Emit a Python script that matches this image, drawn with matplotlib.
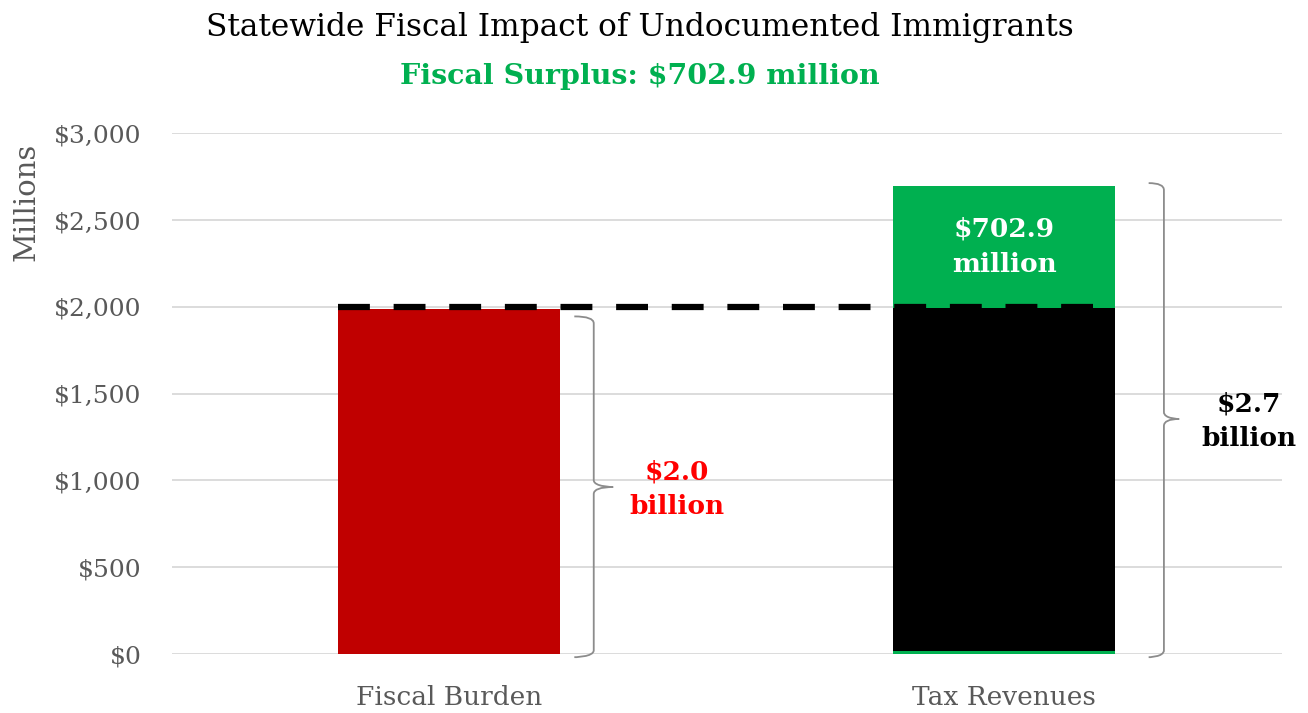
import numpy as np
import matplotlib
matplotlib.use("Agg")
import matplotlib.pyplot as plt
from matplotlib.path import Path
from matplotlib.patches import PathPatch

# values in millions of dollars
categories = ["Fiscal Burden", "Tax Revenues"]
burden = 1990.0
revenue_base = 15.0        # thin green sliver under the black segment
revenue_matched = 1980.0   # part of revenues that offsets the burden
surplus = 702.9
burden_label = "$2.0\nbillion"
revenue_label = "$2.7\nbillion"
surplus_label = "$702.9\nmillion"
yticks = [0, 500, 1000, 1500, 2000, 2500, 3000]

RED = "#C00000"
GREEN = "#00B050"
GRAY_TXT = "#595959"
GRID = "#D9D9D9"
BRACE = "#8C8C8C"

plt.rcParams["font.family"] = ["DejaVu Serif"]

fig = plt.figure(figsize=(13.08, 7.13), dpi=100)
ax = fig.add_axes([0.1315, 0.0827, 0.8485, 0.7304])

x = np.arange(len(categories))
w = 0.40

ax.bar(x[0], burden, width=w, color=RED, zorder=3)
ax.bar(x[1], revenue_base, width=w, color=GREEN, zorder=3)
ax.bar(x[1], revenue_matched, width=w, bottom=revenue_base, color="black", zorder=3)
top_black = revenue_base + revenue_matched
ax.bar(x[1], surplus, width=w, bottom=top_black, color=GREEN, zorder=3)
total = top_black + surplus

# dashed reference line at the burden level
ax.plot([x[0] - w / 2, x[1] + w / 2], [2000, 2000], color="black",
        lw=4.5, dashes=(5.1, 3.8), zorder=4, solid_capstyle="butt")


def brace(ax, x0, width, y0, y1, ymid):
    # right-pointing curly brace from y0 (bottom) to y1 (top)
    xm = x0 + width * 0.5
    xt = x0 + width
    r = 40
    verts = [
        (x0, y1), (xm, y1), (xm, y1 - r),
        (xm, ymid + r),
        (xm, ymid), (xt, ymid), (xt, ymid),
        (xm, ymid), (xm, ymid - r),
        (xm, y0 + r),
        (xm, y0), (x0, y0), (x0, y0),
    ]
    codes = [Path.MOVETO, Path.CURVE3, Path.CURVE3,
             Path.LINETO,
             Path.CURVE4, Path.CURVE4, Path.CURVE4,
             Path.CURVE3, Path.CURVE3,
             Path.LINETO,
             Path.CURVE4, Path.CURVE4, Path.CURVE4]
    ax.add_patch(PathPatch(Path(verts, codes), fill=False, edgecolor=BRACE,
                           lw=1.3, zorder=5, clip_on=False))


brace(ax, x[0] + 0.225, 0.07, -18, burden - 45, 962)
brace(ax, x[1] + 0.26, 0.055, -18, total + 15, 1354)

lbl = dict(ha="center", va="center", fontsize=19, fontweight="bold", linespacing=1.5)
ax.text(x[1], top_black + surplus / 2, surplus_label, color="white", zorder=6, **lbl)
ax.text(x[0] + 0.41, 950, burden_label, color="#FF0000", **lbl)
ax.text(x[1] + 0.44, 1340, revenue_label, color="black", **lbl)

ax.set_xlim(-0.5, 1.5)
ax.set_ylim(0, 3000)
ax.set_yticks(yticks)
ax.set_yticklabels([f"${v:,}" for v in yticks])
ax.set_xticks(x)
ax.set_xticklabels(categories)
ax.tick_params(axis="both", length=0, labelsize=18, labelcolor=GRAY_TXT)
ax.tick_params(axis="y", pad=22)
ax.tick_params(axis="x", labelsize=19, pad=22)
ax.grid(axis="y", color=GRID, lw=1.3, zorder=0)
for s in ax.spines.values():
    s.set_visible(False)
ax.set_ylabel("Millions", fontsize=21, color=GRAY_TXT)
ax.yaxis.set_label_coords(-0.131, 0.868)
ax.yaxis.label.set_va("center")

fig.text(0.489, 0.962, "Statewide Fiscal Impact of Undocumented Immigrants",
         ha="center", va="center", fontsize=22.5, color="black")
fig.text(0.489, 0.893, "Fiscal Surplus: $702.9 million",
         ha="center", va="center", fontsize=20.5, color=GREEN, fontweight="bold")

fig.savefig("out.png", dpi=100)
